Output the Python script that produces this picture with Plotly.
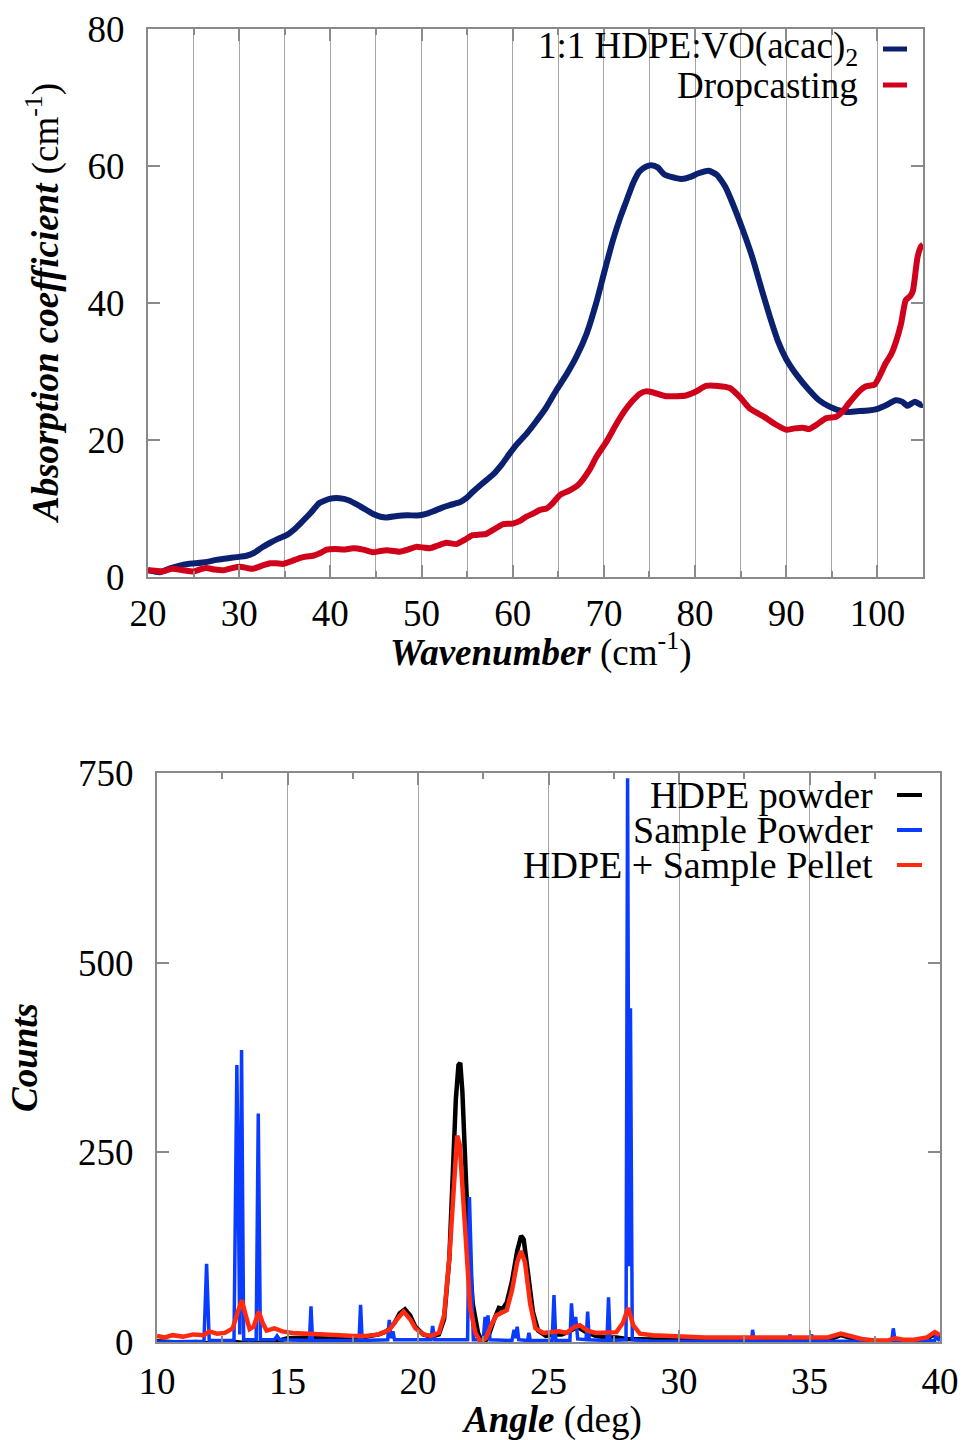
import plotly.graph_objects as go

# ---- Far-IR absorption (top panel) ----
wn_hdpe = [20.0, 21.3, 22.5, 23.9, 25.2, 26.4, 27.5, 28.6, 29.7, 30.8, 31.6, 32.5, 33.4, 34.3,
           35.2, 36.0, 36.7, 37.8, 38.8, 39.9, 41.0, 42.0, 42.9, 43.8, 44.7, 45.5, 46.2, 47.3,
           48.4, 49.8, 50.5, 51.3, 52.2, 53.1, 54.2, 54.9, 55.6, 56.7, 57.8, 58.9, 59.6, 60.4,
           61.5, 62.5, 63.6, 64.8, 66.0, 67.0, 68.1, 69.2, 70.1, 71.0, 71.8, 72.5, 73.2, 73.9,
           74.6, 75.2, 75.9, 76.6, 77.4, 78.5, 79.5, 80.3, 81.5, 82.4, 83.3, 84.1, 85.2, 86.3,
           87.3, 88.2, 89.1, 90.0, 91.2, 92.5, 93.6, 94.7, 95.6, 96.6, 97.8, 99.0, 99.9, 101.0,
           102.0, 102.7, 103.3, 104.1, 104.8, 105.0]
abs_hdpe = [1.0, 0.7, 1.3, 1.8, 2.0, 2.2, 2.5, 2.7, 2.9, 3.1, 3.5, 4.3, 5.0, 5.6,
            6.1, 6.9, 7.8, 9.3, 10.8, 11.4, 11.5, 11.2, 10.6, 9.9, 9.2, 8.8, 8.7, 8.9,
            9.0, 9.0, 9.2, 9.6, 10.1, 10.5, 10.9, 11.5, 12.4, 13.7, 14.9, 16.6, 17.9, 19.3,
            20.9, 22.6, 24.6, 27.3, 29.8, 32.2, 35.5, 40.2, 44.8, 49.2, 52.5, 55.0, 57.5, 59.2,
            59.9, 60.1, 59.8, 58.8, 58.4, 58.1, 58.4, 58.9, 59.3, 58.7, 57.0, 54.6, 50.8, 46.6,
            42.0, 38.0, 34.4, 31.8, 29.4, 27.3, 25.8, 24.9, 24.4, 24.1, 24.2, 24.3, 24.5, 25.1,
            25.8, 25.6, 25.0, 25.6, 25.1, 25.2]

wn_drop = [20.0, 20.8, 21.6, 22.6, 23.8, 25.0, 25.7, 26.4, 27.3, 28.3, 29.2, 30.1, 30.9, 31.5,
           32.4, 33.4, 34.1, 34.8, 35.7, 36.7, 37.4, 38.1, 38.9, 39.6, 40.5, 41.5, 42.5, 43.6,
           44.7, 45.5, 46.2, 47.0, 47.6, 48.5, 49.4, 50.2, 50.9, 51.8, 52.7, 53.8, 54.7, 55.6,
           56.4, 57.1, 58.0, 58.9, 60.0, 60.8, 61.5, 62.3, 63.0, 63.7, 64.4, 65.2, 66.2, 67.3,
           68.4, 69.2, 70.3, 71.4, 72.3, 73.2, 74.0, 74.6, 75.5, 76.8, 78.0, 79.0, 80.0, 81.2,
           82.5, 83.8, 84.9, 86.0, 87.0, 87.8, 88.8, 90.0, 90.9, 91.8, 92.5, 93.4, 94.4, 95.5,
           96.2, 96.9, 98.0, 98.7, 99.7, 100.3, 100.9, 101.5, 102.0, 102.6, 103.1, 103.6, 103.9,
           104.4, 104.8, 105.0]
abs_drop = [1.0, 0.9, 0.8, 1.2, 1.0, 0.8, 1.1, 1.3, 1.1, 1.0, 1.3, 1.5, 1.3, 1.2,
            1.6, 2.0, 2.0, 1.9, 2.3, 2.8, 3.0, 3.1, 3.5, 4.0, 4.1, 4.0, 4.2, 4.0,
            3.6, 3.8, 3.9, 3.8, 3.7, 4.0, 4.4, 4.3, 4.2, 4.6, 5.0, 4.8, 5.4, 6.1,
            6.2, 6.3, 7.0, 7.7, 7.8, 8.2, 8.8, 9.3, 9.8, 10.0, 10.8, 12.0, 12.6, 13.6,
            15.6, 17.6, 19.8, 22.4, 24.3, 25.8, 26.8, 27.1, 26.9, 26.4, 26.4, 26.5, 27.0, 27.9,
            27.9, 27.6, 26.3, 24.6, 23.8, 23.2, 22.3, 21.5, 21.7, 21.8, 21.6, 22.3, 23.2, 23.4,
            24.2, 25.4, 27.1, 27.8, 28.1, 29.5, 31.2, 32.5, 34.2, 37.0, 40.4, 41.0, 41.8,
            46.7, 48.3, 48.5]

# ---- XRD patterns (bottom panel) ----
ang_hdpe = [10.0, 10.5, 11.0, 11.5, 12.0, 12.5, 13.0, 13.5, 14.0, 14.5, 15.0, 15.5, 16.0, 16.5,
            17.0, 17.5, 18.0, 18.5, 18.8, 19.1, 19.3, 19.5, 19.7, 19.9, 20.2, 20.5, 20.8, 21.0,
            21.2, 21.35, 21.45, 21.55, 21.62, 21.7, 21.8, 21.95, 22.1, 22.3, 22.5, 22.7, 22.9,
            23.1, 23.25, 23.4, 23.6, 23.8, 23.95, 24.05, 24.2, 24.4, 24.6, 24.9, 25.2, 25.5,
            25.8, 26.1, 26.4, 26.8, 27.2, 27.6, 28.0, 28.5, 29.0, 29.5, 30.0, 30.5, 31.0, 32.0,
            33.0, 34.0, 35.0, 35.8, 36.2, 36.5, 37.0, 37.5, 38.0, 38.5, 39.0, 39.5, 39.8, 40.0]
cnt_hdpe = [1, 0, -1, 0, -2, -1, 0, -2, -1, 0, 5, 6, 6, 6,
            7, 7, 7, 10, 14, 25, 38, 43, 35, 20, 10, 7, 10, 30,
            110, 230, 320, 365, 368, 330, 240, 120, 50, 12, -3, 8, 28,
            45, 44, 52, 80, 120, 140, 135, 95, 40, 15, 8, 10, 10,
            14, 20, 14, 8, 6, 6, 4, 4, 3, 3, 6, 3, 2, 2,
            2, 1, 2, 4, 9, 6, 1, 0, 0, 1, 2, 5, 10, 7]

ang_sample = [10.0, 11.8, 11.9, 12.0, 12.95, 13.06, 13.13, 13.17, 13.24, 13.32, 13.8, 13.88,
              13.96, 14.5, 14.6, 14.7, 15.84, 15.9, 15.96, 17.74, 17.8, 17.86, 18.84, 18.9,
              18.96, 19.04, 19.1, 20.5, 20.56, 20.64, 21.9, 21.97, 22.05, 22.12, 22.5, 22.57,
              22.62, 22.68, 22.76, 23.6, 23.68, 23.73, 23.8, 23.86, 24.2, 24.25, 24.3, 25.14,
              25.21, 25.28, 25.82, 25.88, 25.94, 26.04, 26.12, 26.44, 26.5, 26.56, 27.24, 27.3,
              27.36, 27.97, 28.03, 28.09, 28.14, 28.21, 29.0, 32.78, 32.82, 32.88, 34.21,
              34.25, 34.3, 35.04, 35.08, 35.13, 38.15, 38.21, 38.28, 39.8, 39.87, 39.95, 40.0]
cnt_sample = [0, 1, 103, 2, 2, 365, 150, 10, 385, 3, 3, 301,
              3, 3, 8, 3, 2, 47, 2, 2, 49, 2, 3, 29,
              5, 14, 3, 3, 21, 3, 3, 191, 95, 3, 3, 33,
              10, 35, 3, 2, 16, 5, 20, 3, 2, 12, 2, 2,
              62, 2, 2, 51, 20, 33, 4, 3, 40, 3, 2, 59,
              2, 3, 743, 100, 440, 3, 1, 1, 16, 1, 1,
              10, 1, 1, 10, 1, 1, 18, 1, 2, 12, 3, 2]

ang_pellet = [10.0, 10.3, 10.6, 11.0, 11.4, 11.8, 12.0, 12.3, 12.6, 12.9, 13.1, 13.25, 13.4,
              13.55, 13.7, 13.9, 14.05, 14.2, 14.5, 14.8, 15.2, 15.6, 16.0, 16.5, 17.0, 17.5,
              18.0, 18.5, 18.9, 19.2, 19.45, 19.7, 19.9, 20.2, 20.5, 20.8, 21.0, 21.2, 21.35,
              21.5, 21.6, 21.7, 21.85, 22.0, 22.2, 22.4, 22.6, 22.8, 23.0, 23.2, 23.4, 23.6,
              23.8, 23.95, 24.1, 24.3, 24.5, 24.8, 25.1, 25.4, 25.7, 26.0, 26.2, 26.5, 26.8,
              27.2, 27.6, 27.85, 28.05, 28.25, 28.5, 29.0, 29.5, 30.0, 30.5, 31.0, 32.0, 33.0,
              34.0, 35.0, 35.7, 36.2, 36.6, 37.0, 37.5, 38.0, 38.3, 38.6, 39.0, 39.5, 39.8, 40.0]
cnt_pellet = [8, 6, 9, 7, 10, 9, 14, 11, 12, 18, 40, 55, 35,
              17, 20, 40, 25, 15, 18, 14, 12, 11, 10, 10, 9, 8,
              8, 10, 16, 30, 40, 30, 18, 10, 8, 12, 35, 110, 200,
              272, 260, 200, 110, 45, 12, 0, 5, 22, 35, 38, 42, 68,
              105, 120, 105, 50, 18, 12, 13, 14, 12, 20, 22, 15, 12,
              12, 13, 25, 45, 22, 11, 9, 8, 8, 6, 6, 6, 6,
              5, 5, 6, 11, 7, 4, 2, 2, 5, 3, 3, 6, 13, 9]

ir_names = ["1:1 HDPE:VO(acac)<sub>2</sub>", "Dropcasting"]
ir_colors = ["#0b2170", "#d0021b"]
xrd_names = ["HDPE powder", "Sample Powder", "HDPE + Sample Pellet"]
xrd_colors = ["#000000", "#0a3cff", "#ff2a10"]

W, H = 964, 1440
FONT = "Liberation Serif, Times New Roman, serif"
AX_GRAY = "#8a8a8a"
GRID_GRAY = "#a6a6a6"


def px(x):
    return x / W


def py(y):
    return 1 - y / H


fig = go.Figure()
fig.add_trace(go.Scatter(x=wn_hdpe, y=abs_hdpe, mode="lines", name=ir_names[0],
                         line=dict(color=ir_colors[0], width=6, shape="spline", smoothing=0.5),
                         xaxis="x", yaxis="y"))
fig.add_trace(go.Scatter(x=wn_drop, y=abs_drop, mode="lines", name=ir_names[1],
                         line=dict(color=ir_colors[1], width=6, shape="spline", smoothing=0.5),
                         xaxis="x", yaxis="y"))
fig.add_trace(go.Scatter(x=ang_hdpe, y=cnt_hdpe, mode="lines", name=xrd_names[0],
                         line=dict(color=xrd_colors[0], width=4.5), xaxis="x2", yaxis="y2"))
fig.add_trace(go.Scatter(x=ang_sample, y=cnt_sample, mode="lines", name=xrd_names[1],
                         line=dict(color=xrd_colors[1], width=3.5), xaxis="x2", yaxis="y2"))
fig.add_trace(go.Scatter(x=ang_pellet, y=cnt_pellet, mode="lines", name=xrd_names[2],
                         line=dict(color=xrd_colors[2], width=4.5), xaxis="x2", yaxis="y2"))

tick_font = dict(family=FONT, size=37, color="black")
common = dict(showline=True, linecolor=AX_GRAY, linewidth=2, mirror="ticks", ticks="inside",
              tickcolor=AX_GRAY, tickwidth=1.5, ticklen=12, tickfont=tick_font, zeroline=False,
              automargin=False)

fig.update_layout(
    template="none",
    width=W, height=H, margin=dict(l=0, r=0, t=0, b=0, autoexpand=False),
    font=dict(family=FONT, size=37, color="black"),
    paper_bgcolor="white", plot_bgcolor="white", showlegend=False,
    xaxis=dict(domain=[px(148), px(923)], range=[20, 105], dtick=10, tick0=20,
               showgrid=True, gridcolor=GRID_GRAY, gridwidth=1.2, anchor="y",
               ticklabelstandoff=3,
               minor=dict(dtick=5, tick0=20, showgrid=True, gridcolor=GRID_GRAY, gridwidth=1.2,
                          ticks="inside", ticklen=6, tickcolor=AX_GRAY),
               **common),
    yaxis=dict(domain=[py(577), py(29)], range=[0, 80], dtick=20, showgrid=False, anchor="x",
               ticklabelstandoff=14, **common),
    xaxis2=dict(domain=[px(157), px(940)], range=[10, 40], dtick=5, tick0=10,
                showgrid=True, gridcolor=GRID_GRAY, gridwidth=1.2, anchor="y2",
                ticklabelstandoff=6,
                minor=dict(dtick=2.5, tick0=10, showgrid=False, ticks="inside", ticklen=6,
                           tickcolor=AX_GRAY),
                **common),
    yaxis2=dict(domain=[py(1342), py(773)], range=[0, 750], dtick=250, showgrid=False,
                anchor="x2", ticklabelstandoff=14, **common),
)

title_font = dict(family=FONT, size=37, color="black")
annotations = [
    dict(text="<b><i>Absorption coefficient</i></b> (cm<sup>-1</sup>)", x=px(43), y=py(303),
         textangle=-90),
    dict(text="<b><i>Wavenumber</i></b> (cm<sup>-1</sup>)", x=px(540), y=py(650)),
    dict(text="<b><i>Counts</i></b>", x=px(24), y=py(1058), textangle=-90),
    dict(text="<b><i>Angle</i></b> (deg)", x=px(552), y=py(1420)),
]
for a in annotations:
    fig.add_annotation(xref="paper", yref="paper", showarrow=False, font=title_font,
                       xanchor="center", yanchor="middle", **a)

# Key entries: text on the left, line sample on the right
ir_key_y = [49, 85]
for name, color, yy in zip(ir_names, ir_colors, ir_key_y):
    fig.add_annotation(xref="paper", yref="paper", x=px(860), y=py(yy), text=name,
                       showarrow=False, xanchor="right", yanchor="middle", font=title_font)
    fig.add_shape(type="line", xref="paper", yref="paper", x0=px(883), x1=px(907),
                  y0=py(yy), y1=py(yy), line=dict(color=color, width=5))

key_font = dict(family=FONT, size=38, color="black")
xrd_key_y = [795, 830, 865]
for name, color, yy in zip(xrd_names, xrd_colors, xrd_key_y):
    fig.add_annotation(xref="paper", yref="paper", x=px(875), y=py(yy), text=name,
                       showarrow=False, xanchor="right", yanchor="middle", font=key_font)
    fig.add_shape(type="line", xref="paper", yref="paper", x0=px(897), x1=px(922),
                  y0=py(yy), y1=py(yy), line=dict(color=color, width=4))

fig.write_html("out.html")
